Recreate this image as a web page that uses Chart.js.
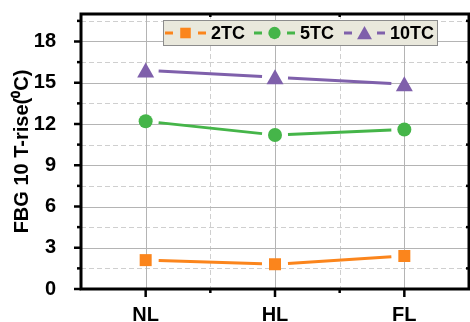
<!DOCTYPE html>
<html>
<head>
<meta charset="utf-8">
<script src="https://cdn.jsdelivr.net/npm/chart.js@4/dist/chart.umd.min.js"></script>
<style>
  html, body { margin: 0; padding: 0; background: #fff; }
  #wrap { width: 470px; height: 322px; }
</style>
</head>
<body>
<div id="wrap"><canvas id="c" width="470" height="322"></canvas></div>
<script>
// Temperature rise of FBG 10 for three load cases
const categories = ['NL', 'HL', 'FL'];
const seriesNames = ['2TC', '5TC', '10TC'];
const tc2 = [2.1, 1.8, 2.4];
const tc5 = [12.2, 11.2, 11.6];
const tc10 = [15.9, 15.4, 14.9];
const yTicks = [0, 3, 6, 9, 12, 15, 18];
const yMinor = [1.5, 4.5, 7.5, 10.5, 13.5, 16.5, 19.5];

const colors = ['#fb851c', '#45b549', '#7f60ab'];
const shapes = ['rect', 'circle', 'triangle'];
const FONT = '"Liberation Sans", Arial, sans-serif';

function drawMarker(ctx, shape, x, y, color, k) {
  k = k || 1;
  ctx.save();
  ctx.fillStyle = color;
  ctx.beginPath();
  if (shape === 'rect') {
    ctx.rect(x - 6 * k, y - 6 * k, 12 * k, 12 * k);
  } else if (shape === 'circle') {
    ctx.arc(x, y, 7 * k, 0, Math.PI * 2);
  } else {
    ctx.moveTo(x, y - 8 * k);
    ctx.lineTo(x + 8.5 * k, y + 7 * k);
    ctx.lineTo(x - 8.5 * k, y + 7 * k);
    ctx.closePath();
  }
  ctx.fill();
  ctx.restore();
}

// grid, broken connecting lines, frame with ticks, and the legend box
const decor = {
  id: 'decor',
  beforeDatasetsDraw(chart) {
    const { ctx, chartArea: a, scales: { x, y } } = chart;
    ctx.save();
    ctx.lineWidth = 1;
    // dashed minor grid
    ctx.strokeStyle = '#cfcfcf';
    ctx.setLineDash([5, 3]);
    yMinor.forEach(v => {
      const py = Math.round(y.getPixelForValue(v)) + 0.5;
      ctx.beginPath(); ctx.moveTo(a.left, py); ctx.lineTo(a.right, py); ctx.stroke();
    });
    [0.5, 1.5].forEach(v => {
      const px = Math.round(x.getPixelForValue(v)) + 0.5;
      ctx.beginPath(); ctx.moveTo(px, a.top); ctx.lineTo(px, a.bottom); ctx.stroke();
    });
    // solid major grid
    ctx.setLineDash([]);
    ctx.strokeStyle = '#b4b4b4';
    yTicks.forEach(v => {
      const py = Math.round(y.getPixelForValue(v)) + 0.5;
      ctx.beginPath(); ctx.moveTo(a.left, py); ctx.lineTo(a.right, py); ctx.stroke();
    });
    categories.forEach((c, i) => {
      const px = Math.round(x.getPixelForValue(i)) + 0.5;
      ctx.beginPath(); ctx.moveTo(px, a.top); ctx.lineTo(px, a.bottom); ctx.stroke();
    });
    // connecting lines, broken around each marker
    chart.data.datasets.forEach((ds, di) => {
      const pts = chart.getDatasetMeta(di).data;
      ctx.strokeStyle = colors[di];
      ctx.lineWidth = 3;
      ctx.lineCap = 'butt';
      for (let i = 0; i < pts.length - 1; i++) {
        const p = pts[i], q = pts[i + 1];
        const dx = q.x - p.x, dy = q.y - p.y;
        const len = Math.hypot(dx, dy);
        const g = 13;
        ctx.beginPath();
        ctx.moveTo(p.x + dx * g / len, p.y + dy * g / len);
        ctx.lineTo(q.x - dx * g / len, q.y - dy * g / len);
        ctx.stroke();
      }
    });
    ctx.restore();
  },
  afterDatasetsDraw(chart) {
    const { ctx } = chart;
    chart.data.datasets.forEach((ds, di) => {
      chart.getDatasetMeta(di).data.forEach(p => drawMarker(ctx, shapes[di], p.x, p.y, colors[di]));
    });
  },
  afterDraw(chart) {
    const { ctx, chartArea: a, scales: { x, y } } = chart;
    ctx.save();
    ctx.strokeStyle = '#000';
    // tick marks
    ctx.lineWidth = 2.5;
    yTicks.forEach(v => {
      const py = y.getPixelForValue(v);
      ctx.beginPath(); ctx.moveTo(a.left - 7, py); ctx.lineTo(a.left, py); ctx.stroke();
    });
    yMinor.forEach(v => {
      const py = y.getPixelForValue(v);
      ctx.beginPath(); ctx.moveTo(a.left - 4, py); ctx.lineTo(a.left, py); ctx.stroke();
      ctx.beginPath(); ctx.moveTo(a.right - 3, py); ctx.lineTo(a.right, py); ctx.stroke();
    });
    categories.forEach((c, i) => {
      const px = x.getPixelForValue(i);
      ctx.beginPath(); ctx.moveTo(px, a.bottom); ctx.lineTo(px, a.bottom + 8); ctx.stroke();
    });
    [0.5, 1.5].forEach(v => {
      const px = x.getPixelForValue(v);
      ctx.beginPath(); ctx.moveTo(px, a.bottom); ctx.lineTo(px, a.bottom + 4); ctx.stroke();
      ctx.beginPath(); ctx.moveTo(px, a.top); ctx.lineTo(px, a.top + 3); ctx.stroke();
    });
    // frame
    ctx.lineWidth = 3;
    ctx.strokeRect(a.left, a.top, a.right - a.left, a.bottom - a.top);

    // legend box
    const bx = 163, by = 20, bw = 274, bh = 25, cy = by + bh / 2 + 0.5;
    ctx.fillStyle = '#e9e8dc';
    ctx.fillRect(bx, by, bw, bh);
    ctx.lineWidth = 1;
    ctx.strokeStyle = '#8c8c8c';
    ctx.strokeRect(bx + 0.5, by + 0.5, bw, bh);
    const starts = [165, 254, 344];
    ctx.font = 'bold 18px ' + FONT;
    ctx.textBaseline = 'middle';
    ctx.textAlign = 'left';
    seriesNames.forEach((name, i) => {
      const s = starts[i];
      ctx.strokeStyle = colors[i];
      ctx.lineWidth = 3;
      ctx.beginPath(); ctx.moveTo(s, cy); ctx.lineTo(s + 8, cy); ctx.stroke();
      ctx.beginPath(); ctx.moveTo(s + 33, cy); ctx.lineTo(s + 41, cy); ctx.stroke();
      drawMarker(ctx, shapes[i], s + 20.5, cy, colors[i], 0.88);
      ctx.fillStyle = '#000';
      ctx.fillText(name, s + 46, cy + 1);
    });
    ctx.restore();
  }
};

new Chart(document.getElementById('c'), {
  type: 'line',
  data: {
    labels: categories,
    datasets: [tc2, tc5, tc10].map((d, i) => ({
      label: seriesNames[i],
      data: d,
      showLine: false,
      pointRadius: 0,
      pointHoverRadius: 0,
      borderColor: colors[i],
      backgroundColor: colors[i]
    }))
  },
  options: {
    responsive: false,
    animation: false,
    events: [],
    layout: { padding: { top: 14, right: 1, left: 0, bottom: 0 } },
    plugins: { legend: { display: false }, tooltip: { enabled: false } },
    scales: {
      x: {
        type: 'category',
        offset: true,
        grid: { display: false },
        border: { display: false },
        ticks: { color: '#000', padding: 6, font: { family: FONT, size: 20, weight: 'bold' } },
        afterFit(s) { s.height = 33; s.paddingLeft = 0; s.paddingRight = 0; }
      },
      y: {
        min: 0,
        max: 20,
        grid: { display: false },
        border: { display: false },
        afterBuildTicks(s) { s.ticks = yTicks.map(v => ({ value: v })); },
        ticks: { color: '#000', padding: 17, font: { family: FONT, size: 20, weight: 'bold' } },
        title: {
          display: true,
          text: 'FBG 10 T-rise(\u2070C)',
          color: '#000',
          padding: { top: 10, bottom: 0 },
          font: { family: FONT, size: 20, weight: 'bold' }
        },
        afterFit(s) { s.width = 81; s.paddingTop = 0; s.paddingBottom = 0; }
      }
    }
  },
  plugins: [decor]
});
</script>
</body>
</html>
